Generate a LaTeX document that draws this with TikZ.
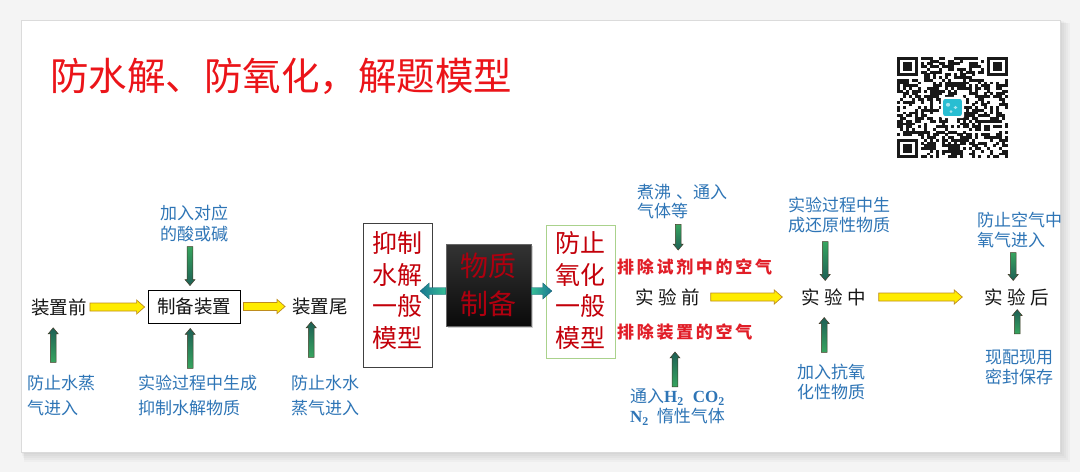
\documentclass[tikz,border=0pt]{standalone}
\usepackage{fontspec}
\setmainfont{Noto Sans CJK SC}
\newfontfamily\latserif{Liberation Serif}
\usetikzlibrary{calc,shadows}
\definecolor{bgc}{RGB}{244,244,244}
\definecolor{blu}{RGB}{46,117,182}
\definecolor{redt}{RGB}{235,20,25}
\definecolor{redl}{RGB}{225,30,40}
\definecolor{redd}{RGB}{195,0,10}
\definecolor{coretxt}{RGB}{175,0,15}
\definecolor{ylw}{RGB}{255,236,0}
\definecolor{ylwd}{RGB}{190,140,30}
\definecolor{grn}{RGB}{55,165,95}
\definecolor{grnd}{RGB}{30,95,85}
\definecolor{grno}{RGB}{70,60,40}
\definecolor{tealA}{RGB}{25,120,145}
\definecolor{tealB}{RGB}{55,190,150}
\definecolor{lgreen}{RGB}{170,210,140}
\definecolor{qrlogo}{RGB}{40,190,210}

\newlength\lsp
\setlength\lsp{4pt}
\def\spaced#1{\spacedfirst#1\relax}
\def\spacedfirst#1{#1\spacedloop}
\def\spacedloop#1{\ifx#1\relax\else\hspace{\lsp}#1\expandafter\spacedloop\fi}

\tikzset{
  bw/.code={\def\bw{#1}}, bhw/.code={\def\bhw{#1}}, bhl/.code={\def\bhl{#1}},
  yarrow/.style={fill=ylw, draw=ylwd, line width=0.7pt, bw=4pt, bhw=7pt, bhl=8pt},
  gdown/.style={top color=grn, bottom color=grnd, draw=grno, line width=0.5pt, bw=2.8pt, bhw=5pt, bhl=6pt},
  gup/.style={top color=grnd, bottom color=grn, draw=grno, line width=0.5pt, bw=2.8pt, bhw=5pt, bhl=6pt},
  tealL/.style={left color=tealA, right color=tealB, draw=tealA!80!black, line width=0.4pt, bw=3.5pt, bhw=8pt, bhl=9pt},
  tealR/.style={left color=tealB, right color=tealA, draw=tealA!80!black, line width=0.4pt, bw=3.5pt, bhw=8pt, bhl=9pt},
  title/.style={inner sep=0pt, font=\fontsize{38.5}{40}\selectfont, text=redt},
  lbl/.style={inner sep=0pt, font=\fontsize{17}{20}\selectfont, text=blu, align=left},
  blk/.style={inner sep=0pt, font=\fontsize{18.5}{22}\selectfont, text=black!92},
  redlbl/.style={inner sep=0pt, font=\fontsize{17}{20}\selectfont\bfseries, text=redl},
  modeltxt/.style={inner sep=0pt, align=center, font=\fontsize{25}{31.5}\selectfont, text=redd},
  corebox/.style={inner sep=0pt, align=center, minimum width=85pt, minimum height=82pt,
    top color=black!80, bottom color=black!96, draw=black!60, line width=0.6pt,
    drop shadow={opacity=0.35, shadow xshift=2pt, shadow yshift=-2pt},
    font=\fontsize{28}{38}\selectfont, text=coretxt},
}

\newcommand\hblock[3]{\path[#1] let \p1=#2, \p2=#3, \n1={sign(\x2-\x1)} in
  ({\x1},{\y1+\bw}) -- ({\x2-(\n1)*\bhl},{\y1+\bw}) -- ({\x2-(\n1)*\bhl},{\y1+\bhw}) -- ({\x2},{\y1})
  -- ({\x2-(\n1)*\bhl},{\y1-\bhw}) -- ({\x2-(\n1)*\bhl},{\y1-\bw}) -- ({\x1},{\y1-\bw}) -- cycle;}
\newcommand\vblock[3]{\path[#1] let \p1=#2, \p2=#3, \n1={sign(\y2-\y1)} in
  ({\x1+\bw},{\y1}) -- ({\x1+\bw},{\y2-(\n1)*\bhl}) -- ({\x1+\bhw},{\y2-(\n1)*\bhl}) -- ({\x1},{\y2})
  -- ({\x1-\bhw},{\y2-(\n1)*\bhl}) -- ({\x1-\bw},{\y2-(\n1)*\bhl}) -- ({\x1-\bw},{\y1}) -- cycle;}

\begin{document}
\begin{tikzpicture}[x=1pt,y=1pt]
\useasboundingbox (0,0) rectangle (1080,-472);
% page background and slide
\fill[bgc] (0,0) rectangle (1080,-472);
\foreach \k in {2,4,6,8,10}{
  \fill[black,opacity=0.025] (21+\k/3,-20-\k/3) rectangle (1060+\k,-452-\k);
}
\fill[white] (21,-20) rectangle (1060,-452);
\draw[black!14, line width=0.8pt] (21,-20) rectangle (1060,-452);

\begin{scope}
\clip (21,-20) rectangle (1060,-452);

% title
\node[title, anchor=west] (title) at (50,-76) {防水解、防氧化，解题模型};

% QR code
\begin{scope}[shift={(897,-57)}, x=3pt, y=2.73pt]
  \fill[white] (-1,1) rectangle (38,-38);
  \pgfmathsetseed{20240}
  \foreach \i in {0,...,36}{\foreach \j in {0,...,36}{
    \pgfmathtruncatemacro\on{((rnd<0.5) && !(((\i<8) && (\j<8)) || ((\i>28) && (\j<8)) || ((\i<8) && (\j>28)) || ((\i>14) && (\i<22) && (\j>14) && (\j<22)))) ? 1 : 0}
    \ifnum\on=1 \fill[black!90] (\i,-\j) rectangle ++(1.05,-1.05);\fi
  }}
  \foreach \fx/\fy in {0/0,30/0,0/30}{
    \fill[black!90] (\fx,-\fy) rectangle ++(7,-7);
    \fill[white] (\fx+1,-\fy-1) rectangle ++(5,-5);
    \fill[black!90] (\fx+2,-\fy-2) rectangle ++(3,-3);
  }
  \fill[white, rounded corners=2pt] (14.6,-14.6) rectangle (22.4,-22.4);
  \fill[qrlogo, rounded corners=2pt] (15.4,-15.4) rectangle (21.6,-21.6);
  \fill[white,opacity=0.6] (17,-17.5) circle (0.7) (19.5,-18.5) circle (0.6) (18,-20) circle (0.5);
\end{scope}

% ---------- left part: hydrolysis ----------
\node[blk] (pre) at (59,-307) {装置前};
\node[blk, draw=black, line width=0.8pt, minimum width=92pt, minimum height=33pt] (prep) at (194,-306.5) {制备装置};
\node[blk] (tail) at (320,-307) {装置尾};
\node[lbl, align=center, font=\fontsize{17}{21}\selectfont] (lab1) at (194,-223) {加入对应\\的酸或碱};
\node[lbl, font=\fontsize{17}{25}\selectfont, anchor=west] (lab2) at (138,-395.5) {实验过程中生成\\抑制水解物质};
\node[lbl, font=\fontsize{17}{25}\selectfont, anchor=west] (lab3) at (27,-395.5) {防止水蒸\\气进入};
\node[lbl, font=\fontsize{17}{25}\selectfont, anchor=west] (lab4) at (291,-395.5) {防止水水\\蒸气进入};

\hblock{yarrow}{([xshift=3pt]pre.east)}{([xshift=-3pt]prep.west)}
\hblock{yarrow}{([xshift=3pt]prep.east)}{([xshift=-7pt]tail.west)}
\vblock{gdown}{([xshift=-4pt,yshift=-5pt]lab1.south)}{([yshift=4pt]prep.north)}
\vblock{gup}{([xshift=-7.5pt,yshift=6.5pt]lab2.north)}{([yshift=-5pt]prep.south)}
\vblock{gup}{([xshift=-8pt,yshift=12.5pt]lab3.north)}{([yshift=-12pt]pre.south)}
\vblock{gup}{([xshift=-14pt,yshift=17.5pt]lab4.north)}{([yshift=-6pt]tail.south)}

% ---------- middle ----------
\node[modeltxt] (hyd) at (397.5,-290.3) {抑制\\水解\\一般\\模型};
\draw[black!75, line width=0.9pt] ([xshift=-34.5pt,yshift=67.3pt]hyd.center) rectangle ([xshift=34.5pt,yshift=-76.7pt]hyd.center);
\node[modeltxt] (oxi) at (580.5,-290.3) {防止\\氧化\\一般\\模型};
\draw[lgreen, line width=1pt] ([xshift=-34.5pt,yshift=65.3pt]oxi.center) rectangle ([xshift=34.5pt,yshift=-67.7pt]oxi.center);
\node[corebox] (core) at (488.5,-285) {物质\\制备};
\hblock{tealL}{([yshift=-6pt]core.west)}{([xshift=-2.5pt]hyd.east)}
\hblock{tealR}{([yshift=-6pt]core.east)}{([xshift=-3.5pt]oxi.west)}

% ---------- right part: oxidation ----------
\setlength\lsp{2.7pt}
\node[redlbl, anchor=west] (redA) at (617,-267) {\spaced{排除试剂中的空气}};
\node[redlbl, anchor=west] (redB) at (617,-332) {\spaced{排除装置的空气}};
\setlength\lsp{4.5pt}
\node[blk] (exA) at (667.5,-297) {\spaced{实验前}};
\node[blk] (exB) at (834,-297) {\spaced{实验中}};
\node[blk] (exC) at (1017,-297) {\spaced{实验后}};

\node[lbl, font=\fontsize{17}{19.5}\selectfont, anchor=west] (rl1) at (637,-201.5) {煮沸\hspace{5pt}、通入\\气体等};
\node[lbl, font=\fontsize{17}{20}\selectfont, anchor=west] (rl2) at (630,-407)
  {通入{\latserif\bfseries H\textsubscript{2}\hspace{9pt}CO\textsubscript{2}}\\{\latserif\bfseries N\textsubscript{2}}\hspace{8pt}惰性气体};
\node[lbl, font=\fontsize{17}{20}\selectfont, anchor=west] (rl3) at (788,-215) {实验过程中生\\成还原性物质};
\node[lbl, font=\fontsize{17}{20}\selectfont, anchor=west] (rl4) at (797,-382) {加入抗氧\\化性物质};
\node[lbl, font=\fontsize{17}{20}\selectfont, anchor=west] (rl5) at (977,-230) {防止空气中\\氧气进入};
\node[lbl, font=\fontsize{17}{20}\selectfont, anchor=west] (rl6) at (985,-367) {现配现用\\密封保存};

\vblock{gdown}{([xshift=-4pt,yshift=-5pt]rl1.south)}{([yshift=8.5pt]redA.north)}
\vblock{gup}{([xshift=7.5pt,yshift=-81pt]exA.south)}{([yshift=-11.5pt]redB.south)}
\hblock{yarrow}{([xshift=10.75pt]exA.east)}{([xshift=-19.25pt]exB.west)}
\vblock{gdown}{([xshift=-14pt,yshift=-8.5pt]rl3.south)}{([yshift=7.75pt]exB.north)}
\vblock{gup}{([xshift=-7pt,yshift=11.5pt]rl4.north)}{([yshift=-11.75pt]exB.south)}
\hblock{yarrow}{([xshift=12.25pt]exB.east)}{([xshift=-22.25pt]exC.west)}
\vblock{gdown}{([xshift=-6.5pt,yshift=-4.5pt]rl5.south)}{([yshift=7.75pt]exC.north)}
\vblock{gup}{([xshift=-2pt,yshift=15.5pt]rl6.north)}{([yshift=-3.75pt]exC.south)}
\end{scope}
\end{tikzpicture}
\end{document}
